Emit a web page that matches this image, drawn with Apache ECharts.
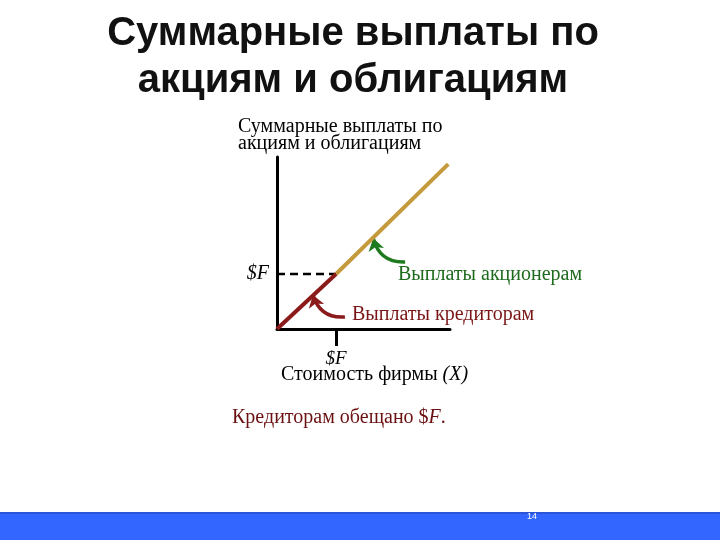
<!DOCTYPE html>
<html><head><meta charset="utf-8">
<script src="https://cdn.jsdelivr.net/npm/echarts@6/dist/echarts.min.js"></script>
<style>html,body{margin:0;padding:0;background:#fff}#c{width:720px;height:540px}</style>
</head><body><div id="c"></div>
<script>
// ---- data ----
const F = 1;                                   // promised face value
const creditorPayoff = [[0, 0], [1, 1]];       // X <= F : creditors get X
const shareholderPayoff = [[1, 1], [2.9, 3.0]];// X > F : total payoff continues
const dashedF = [[0, 1], [1, 1]];              // level $F
const greenArrow = [[2.17, 1.22], [1.63, 1.65]]; // tail -> head (data coords)
const redArrow = [[1.15, 0.22], [0.61, 0.62]];
const xTickValues = [1];
const yTickValues = [1];
const xMax = 2.93, yMax = 3.13;

const serif = '"Liberation Serif","DejaVu Serif",serif';
const chart = echarts.init(document.getElementById('c'), null, {renderer: 'canvas'});
chart.setOption({
  animation: false,
  backgroundColor: '#fff',
  grid: {left: 277, top: 157, width: 173, height: 172, containLabel: false},
  xAxis: {
    type: 'value', min: 0, max: xMax,
    axisLine: {show: true, onZero: false, lineStyle: {color: '#000', width: 3}},
    splitLine: {show: false},
    axisTick: {show: true, customValues: xTickValues, length: 17, lineStyle: {color: '#000', width: 3}},
    axisLabel: {show: true, customValues: xTickValues, margin: 20, formatter: () => '$F',
      fontFamily: serif, fontStyle: 'italic', fontSize: 19, color: '#000'}
  },
  yAxis: {
    type: 'value', min: 0, max: yMax,
    axisLine: {show: true, onZero: false, lineStyle: {color: '#000', width: 3}},
    splitLine: {show: false},
    axisTick: {show: false},
    axisLabel: {show: true, customValues: yTickValues, margin: 8, formatter: () => '$F',
      padding: [6, 0, 0, 0],
      fontFamily: serif, fontStyle: 'italic', fontSize: 20, color: '#000'}
  },
  series: [
    {type: 'line', data: dashedF, symbol: 'none', lineStyle: {color: '#000', width: 2.5, type: [8, 5]}},
    {type: 'line', data: shareholderPayoff, symbol: 'none', lineStyle: {color: '#c49a3c', width: 4}},
    {type: 'line', data: creditorPayoff, symbol: 'none', lineStyle: {color: '#8b1a1a', width: 4}},
    {type: 'lines', coordinateSystem: 'cartesian2d', symbol: ['none', 'arrow'], symbolSize: 12,
      lineStyle: {color: '#1e7a1e', width: 3.5, curveness: 0.4, opacity: 1},
      data: [{coords: greenArrow}]},
    {type: 'lines', coordinateSystem: 'cartesian2d', symbol: ['none', 'arrow'], symbolSize: 12,
      lineStyle: {color: '#8b1a1a', width: 3.5, curveness: 0.4, opacity: 1},
      data: [{coords: redArrow}]}
  ],
  graphic: [
    {type: 'text', x: 353, y: 10, style: {
      text: 'Суммарные выплаты по\nакциям и облигациям', textAlign: 'center',
      font: 'bold 40px "Liberation Sans", Arial, sans-serif', lineHeight: 47, fill: '#111'}},
    {type: 'text', left: 238, top: 117, style: {
      text: 'Суммарные выплаты по\nакциям и облигациям',
      font: '20px ' + serif, lineHeight: 17, fill: '#000'}},
    {type: 'text', left: 398, top: 265, style: {
      text: 'Выплаты акционерам', font: '20px ' + serif, fill: '#1e6b1e'}},
    {type: 'text', left: 352, top: 305, style: {
      text: 'Выплаты кредиторам', font: '20px ' + serif, fill: '#7a1515'}},
    {type: 'text', left: 281, top: 365, style: {
      text: '{n|Стоимость фирмы }{i|(X)}',
      rich: {n: {fontFamily: serif, fontSize: 20, fill: '#000'}, i: {fontFamily: serif, fontSize: 20, fontStyle: 'italic', fill: '#000'}}}},
    {type: 'text', left: 232, top: 408, style: {
      text: '{n|Кредиторам обещано $}{i|F}{n|.}',
      rich: {n: {fontFamily: serif, fontSize: 20, fill: '#6b1010'}, i: {fontFamily: serif, fontSize: 20, fontStyle: 'italic', fill: '#6b1010'}}}},
    {type: 'rect', left: 0, top: 513, shape: {width: 720, height: 27}, style: {fill: '#3366ff'}},
    {type: 'rect', left: 0, top: 512, shape: {width: 720, height: 2}, style: {fill: '#2a55d8'}},
    {type: 'text', left: 527, top: 512, style: {text: '14', font: '9px "Liberation Sans", Arial, sans-serif', fill: '#fff'}}
  ]
});
</script></body></html>
